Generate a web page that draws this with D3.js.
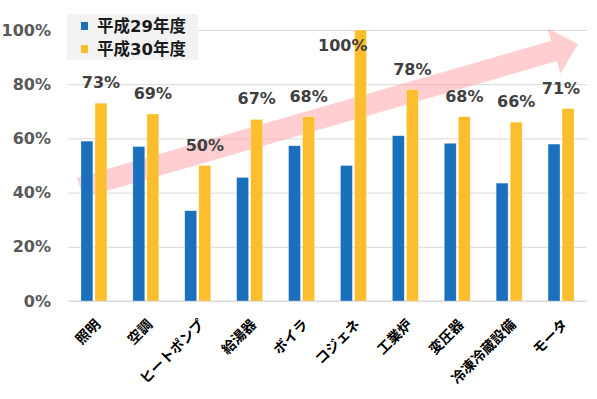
<!DOCTYPE html>
<html>
<head>
<meta charset="utf-8">
<script src="https://cdn.jsdelivr.net/npm/d3@7"></script>
<style>
  body { margin: 0; background: #fff; }
  text { font-family: "DejaVu Sans", "Noto Sans CJK JP", sans-serif; }
</style>
</head>
<body>
<div id="chart"></div>
<script>
var svgWidth = 597;
var svgHeight = 399;

var margin = { top: 30, right: 10, bottom: 98, left: 68 };
var width = 587 - margin.left;
var height = svgHeight - margin.top - margin.bottom;

// data
var categories = ["照明", "空調", "ヒートポンプ", "給湯器", "ボイラ", "コジェネ", "工業炉", "変圧器", "冷凍冷蔵設備", "モータ"];
var seriesNames = ["平成29年度", "平成30年度"];
var h29 = [0.59, 0.57, 0.333, 0.456, 0.573, 0.50, 0.61, 0.582, 0.435, 0.579];
var h30 = [0.73, 0.69, 0.50, 0.67, 0.68, 1.00, 0.78, 0.68, 0.66, 0.71];
var yTicks = [0, 0.2, 0.4, 0.6, 0.8, 1.0];
var colors = ["#1b70be", "#fcbe2d"];

var svg = d3.select("#chart")
  .append("svg")
  .attr("width", svgWidth)
  .attr("height", svgHeight);

var chartGroup = svg.append("g")
  .attr("transform", `translate(${margin.left}, ${margin.top})`);

// scales
var xScale = d3.scaleBand()
  .domain(categories)
  .range([0, width]);

var xSub = d3.scaleBand()
  .domain([0, 1])
  .range([0, 26])
  .paddingInner(0.15);

var yScale = d3.scaleLinear()
  .domain([0, 1])
  .range([height, 0]);

// gridlines + y labels
var leftAxis = d3.axisLeft(yScale)
  .tickValues(yTicks)
  .tickFormat(d3.format(".0%"))
  .tickSizeInner(-width)
  .tickSizeOuter(0)
  .tickPadding(17);

var yAxisG = chartGroup.append("g").call(leftAxis);
yAxisG.select(".domain").remove();
yAxisG.selectAll("line").attr("stroke", "#d9d9d9");
yAxisG.selectAll("text")
  .attr("fill", "#595959")
  .attr("font-size", 16)
  .attr("font-weight", "bold");

// the big pink arrow (drawn over the grid, under the bars)
var start = [12, yScale(0.418)];
var tip = [width - 9, yScale(0.948)];
var dx = tip[0] - start[0], dy = tip[1] - start[1];
var len = Math.sqrt(dx * dx + dy * dy);
var u = [dx / len, dy / len];
var n = [-u[1], u[0]];
var shaftW = 21, headW = 47, headL = 25;
var base = [tip[0] - u[0] * headL, tip[1] - u[1] * headL];
function pt(p, k) { return [p[0] + n[0] * k, p[1] + n[1] * k]; }
var arrowPts = [
  pt(start, -shaftW / 2), pt(base, -shaftW / 2), pt(base, -headW / 2), tip,
  pt(base, headW / 2), pt(base, shaftW / 2), pt(start, shaftW / 2)
];
chartGroup.append("path")
  .attr("d", d3.line()(arrowPts) + "Z")
  .attr("fill", "#ff9ea4")
  .attr("fill-opacity", 0.5);

// x axis line
chartGroup.append("line")
  .attr("x1", 0).attr("x2", width)
  .attr("y1", height).attr("y2", height)
  .attr("stroke", "#d9d9d9");

// bars
function barX(cat, s) {
  return xScale(cat) + xScale.bandwidth() / 2 - 13 + xSub(s);
}

[h29, h30].forEach(function(vals, s) {
  chartGroup.selectAll(".bar" + s)
    .data(vals)
    .enter()
    .append("rect")
    .attr("class", "bar" + s)
    .attr("x", (d, i) => barX(categories[i], s))
    .attr("y", d => yScale(d))
    .attr("width", xSub.bandwidth())
    .attr("height", d => height - yScale(d))
    .attr("fill", colors[s])
    .attr("stroke", "#ffffff")
    .attr("stroke-opacity", 0.5)
    .attr("stroke-width", 0.6);
});

// value labels above the 平成30年度 bars
chartGroup.selectAll(".valueLabel")
  .data(h30)
  .enter()
  .append("text")
  .attr("class", "valueLabel")
  .attr("font-size", 16)
  .attr("font-weight", "bold")
  .attr("fill", "#404040")
  .each(function(d, i) {
    var x0 = barX(categories[i], 1);
    var cx = x0 + xSub.bandwidth() / 2;
    var ty = yScale(d) - 15;
    var t = d3.select(this);
    if (ty - 12 < yScale(1)) {
      // no room above: put it beside the bar, inside the plot
      t.attr("x", x0 + xSub.bandwidth() + 1).attr("y", yScale(d) + 21).attr("text-anchor", "end");
    } else {
      t.attr("x", Math.min(cx, width - 26)).attr("y", ty).attr("text-anchor", "middle");
    }
  })
  .text(d => d3.format(".0%")(d));

// x labels, rotated
chartGroup.selectAll(".xLabel")
  .data(categories)
  .enter()
  .append("text")
  .attr("class", "xLabel")
  .attr("transform", d => `translate(${xScale(d) + xScale.bandwidth() / 2 + 4}, ${height + 21}) rotate(-45)`)
  .attr("text-anchor", "end")
  .attr("dy", "0.35em")
  .attr("font-size", 14)
  .attr("font-weight", "bold")
  .attr("fill", "#000")
  .text(d => d);

// legend
var legend = svg.append("g").attr("transform", "translate(67, 14)");
legend.append("rect")
  .attr("width", 131)
  .attr("height", 46)
  .attr("fill", "#f2f2f2");

var items = legend.selectAll(".item")
  .data(seriesNames)
  .enter()
  .append("g")
  .attr("class", "item")
  .attr("transform", (d, i) => `translate(14, ${8 + i * 23})`);

items.append("rect")
  .attr("width", 7)
  .attr("height", 8)
  .attr("fill", (d, i) => colors[i]);

items.append("text")
  .attr("x", 16)
  .attr("y", 10)
  .attr("font-size", 16.5)
  .attr("font-weight", "bold")
  .attr("fill", "#1a1a1a")
  .text(d => d);
</script>
</body>
</html>
